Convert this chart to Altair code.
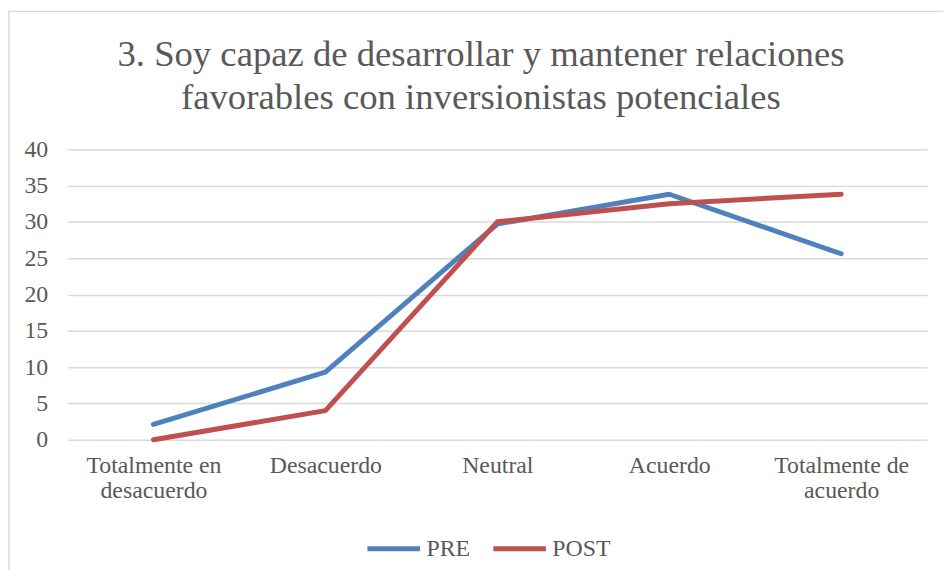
import altair as alt
import pandas as pd

categories = ["Totalmente en desacuerdo", "Desacuerdo", "Neutral", "Acuerdo", "Totalmente de acuerdo"]
pre_values = [2.1, 9.3, 29.7, 33.8, 25.6]
post_values = [0.0, 4.0, 30.0, 32.5, 33.8]
series_names = ["PRE", "POST"]
colors = ["#4F81BD", "#C0504D"]
title_lines = ["3. Soy capaz de desarrollar y mantener relaciones",
               "favorables con inversionistas potenciales"]

rows = []
for c, v in zip(categories, pre_values):
    rows.append({"cat": c, "val": v, "serie": "PRE"})
for c, v in zip(categories, post_values):
    rows.append({"cat": c, "val": v, "serie": "POST"})
df = pd.DataFrame(rows)

FONT = "Liberation Serif"
GRAY = "#595959"

label_expr = ("datum.label == 'Totalmente en desacuerdo' ? ['Totalmente en', 'desacuerdo'] : "
              "datum.label == 'Totalmente de acuerdo' ? ['Totalmente de', 'acuerdo'] : datum.label")

lines = alt.Chart(df).mark_line(strokeWidth=5, strokeCap="round", strokeJoin="round").encode(
    x=alt.X("cat:N", sort=categories, scale=alt.Scale(type="point", padding=0.5),
            axis=alt.Axis(title=None, labelAngle=0, labelExpr=label_expr, domain=False, ticks=False,
                          grid=False, labelPadding=14, labelFont=FONT, labelFontSize=24,
                          labelColor=GRAY, labelLineHeight=25, labelBaseline="top")),
    y=alt.Y("val:Q", scale=alt.Scale(domain=[0, 40]),
            axis=alt.Axis(title=None, values=[0, 5, 10, 15, 20, 25, 30, 35, 40], domain=False, ticks=False,
                          grid=True, gridColor="#D9D9D9", gridWidth=1.5, labelPadding=20,
                          labelFont=FONT, labelFontSize=24, labelColor=GRAY)),
    color=alt.Color("serie:N", sort=series_names,
                    scale=alt.Scale(domain=series_names, range=colors),
                    legend=alt.Legend(title=None, orient="none", legendX=300, legendY=374,
                                      direction="horizontal", symbolType="stroke",
                                      symbolStrokeWidth=5, symbolSize=2809,
                                      labelFont=FONT, labelFontSize=24, labelColor=GRAY,
                                      labelOffset=4, columnPadding=12)),
)

one = pd.DataFrame({"a": [0]})

border = alt.Chart(one).mark_rect(
    fill=None, stroke="#D9D9D9", strokeWidth=1.5, clip=False
).encode(x=alt.value(-59), x2=alt.value(950), y=alt.value(-139), y2=alt.value(500))

title = alt.Chart(one).mark_text(
    font=FONT, fontSize=37, color=GRAY, align="center", baseline="alphabetic", lineHeight=43
).encode(x=alt.value(417), y=alt.value(-84), text=alt.value(title_lines))

chart = alt.layer(border, title, lines).properties(
    width=867, height=293,
    autosize=alt.AutoSizeParams(type="none"),
    padding={"left": 60, "top": 140, "right": 16, "bottom": 129},
).configure_view(stroke=None)

chart.save("out.html", embed_options={"renderer": "svg", "actions": False})
